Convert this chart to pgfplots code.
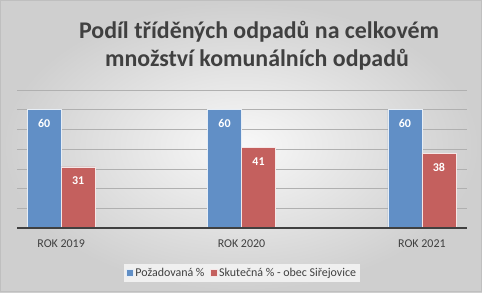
\documentclass[border=0pt]{standalone}
\usepackage{pgfplots}
\pgfplotsset{compat=1.18}
\usepackage{fontspec}
\setmainfont{Carlito}
\definecolor{barblue}{RGB}{97,143,198}
\definecolor{barred}{RGB}{196,96,94}
\definecolor{txt}{RGB}{64,64,64}
\begin{document}
\begin{tikzpicture}[x=1bp,y=1bp]
\useasboundingbox (0,0) rectangle (482,292);
\shade[inner color=gray!5, outer color=gray!38] (0,0) rectangle (482,292);
\draw[gray!50, line width=0.8bp] (0.4,0.4) rectangle (481.6,291.6);
\node[font=\fontsize{24}{28}\selectfont\bfseries, text=txt, anchor=base] at (259,254) {Podíl tříděných odpadů na celkovém};
\node[font=\fontsize{24}{28}\selectfont\bfseries, text=txt, anchor=base] at (257,226) {množství komunálních odpadů};
\begin{axis}[
  at={(17bp,64bp)}, anchor=south west,
  scale only axis, width=450bp, height=138bp,
  xmin=0.7556, xmax=3.25, ymin=0, ymax=70,
  ybar=0pt, bar width=34bp,
  /pgf/number format/assume math mode=true,
  axis line style={draw=none},
  major tick length=0pt,
  ytick={10,20,30,40}, yticklabels={},
  ymajorgrids, y grid style={gray!62, line width=0.7bp},
  extra y ticks={50,60,70}, extra y tick labels={},
  extra y tick style={grid style={gray!35, line width=0.7bp}},
  xtick={1,2,3}, xticklabels={ROK 2019,ROK 2020,ROK 2021},
  xticklabel style={font=\fontsize{12}{14}\selectfont, text=txt, yshift=-8bp},
  nodes near coords,
  every node near coord/.append style={anchor=center, yshift=-14bp, text=white, font=\fontsize{12}{14}\selectfont\bfseries},
  legend columns=2,
  legend style={at={(0.5,-0.325)}, anchor=center, fill=gray!12, draw=none,
    font=\fontsize{12}{14}\selectfont, text=txt, inner sep=2bp,
    /tikz/every even column/.append style={column sep=3bp}},
  legend image code/.code={\fill[#1] (0bp,-3.5bp) rectangle (7bp,3.5bp);},
]
\addplot[fill=barblue, draw=white!85!barblue, line width=0.6bp] coordinates {(1,60) (2,60) (3,60)};
\addplot[fill=barred, draw=white!85!barred, line width=0.6bp] coordinates {(1,31) (2,41) (3,38)};
\legend{Požadovaná \%, Skutečná \% - obec Siřejovice}
\draw[txt, line width=2bp] (rel axis cs:0,0) -- (rel axis cs:1,0);
\end{axis}
\end{tikzpicture}
\end{document}
